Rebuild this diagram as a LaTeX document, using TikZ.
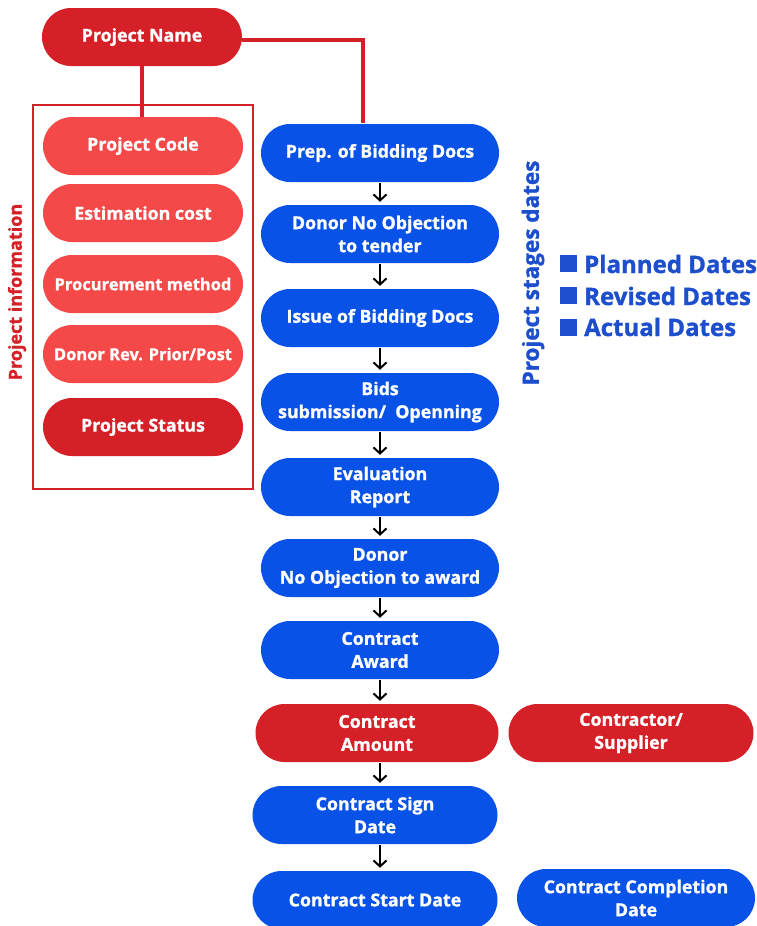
\documentclass[tikz,border=0pt]{standalone}
\usepackage{fontspec}
\setmainfont{Open Sans}[BoldFeatures={FakeBold=1.2}]
\usetikzlibrary{arrows.meta}
\definecolor{darkred}{RGB}{212,32,38}
\definecolor{lightred}{RGB}{245,72,72}
\definecolor{stageblue}{RGB}{8,82,232}
\definecolor{legendblue}{RGB}{28,78,205}
\tikzset{
  pill/.style={rounded corners=29pt, minimum height=58pt, inner sep=0pt,
    text=white, align=center, font=\bfseries\fontsize{17.8}{23}\selectfont},
  inforow/.style={pill, fill=lightred, minimum width=200pt},
  headrow/.style={pill, fill=darkred, minimum width=200pt},
  stagebox/.style={pill, fill=stageblue, minimum width=238pt},
  amountbox/.style={pill, fill=darkred, minimum width=243pt},
  link/.style={draw=darkred, line width=4pt},
  stepline/.style={draw=black, line width=2pt, -{Straight Barb[length=6pt,width=13pt,line width=2pt]}},
  legendsq/.style={fill=legendblue, minimum size=17pt, inner sep=0pt},
  legendtext/.style={text=legendblue, anchor=west, inner sep=0pt, font=\bfseries\fontsize{24}{28}\selectfont}
}
\begin{document}
\begin{tikzpicture}[x=1pt,y=-1pt]
\useasboundingbox[fill=white] (0,0) rectangle (756,926);

% project information frame
\draw[draw=darkred, line width=1.3pt] (33,105) rectangle (253,489);
\node[rotate=90, text=darkred, font=\bfseries\fontsize{18}{20}\selectfont] (infolabel) at (17,292) {Project information};

% project header and information items
\node[headrow] (pname) at (142,37) {Project Name};
\node[inforow] (pcode) at (143,146) {Project Code};
\node[inforow] (pcost) at (143,213) {Estimation cost};
\node[inforow, font=\bfseries\fontsize{16.5}{20}\selectfont] (pmethod) at (143,284) {Procurement method};
\node[inforow, font=\bfseries\fontsize{16.5}{20}\selectfont] (preview) at (143,354) {Donor Rev. Prior/Post};
\node[headrow] (pstatus) at (143,427) {Project Status};

% procurement stages
\node[stagebox] (s1) at (380,153) {Prep. of Bidding Docs};
\node[stagebox] (s2) at (380,234) {Donor No Objection\\to tender};
\node[stagebox] (s3) at (380,318) {Issue of Bidding Docs};
\node[stagebox] (s4) at (380,402) {Bids\\submission/\ \ Openning};
\node[stagebox] (s5) at (380,487) {Evaluation\\Report};
\node[stagebox] (s6) at (380,568) {Donor\\No Objection to award};
\node[stagebox] (s7) at (380,650) {Contract\\Award};
\node[amountbox] (s8) at (377,733) {Contract\\Amount};
\node[stagebox, minimum width=245pt] (s9) at (375,815) {Contract Sign\\Date};
\node[stagebox, minimum width=245pt] (s10) at (375,900) {Contract Start Date};
\node[amountbox, minimum width=245pt] (supplier) at (631,733) {Contractor/\\Supplier};
\node[stagebox] (finish) at (636,898) {Contract Completion\\Date};

% connectors from the project name
\draw[link] (pname.south) -- (pcode.north -| pname.south);
\draw[link] (pname.east |- 0,40) -- (363,40) -- (363,123);

% stage arrows
\foreach \a/\b in {s1/s2,s2/s3,s3/s4,s4/s5,s5/s6,s6/s7,s7/s8,s8/s9,s9/s10}
  \draw[stepline] ([yshift=-1pt]\a.south -| 380,0) -- ([yshift=3pt]\b.north -| 380,0);

% stage dates label and legend
\node[rotate=90, text=legendblue, font=\bfseries\fontsize{22.5}{24}\selectfont] (stagelabel) at (533,273) {Project stages dates};
\node[legendsq] (sq1) at (568,263) {};
\node[legendsq] (sq2) at (568,295) {};
\node[legendsq] (sq3) at (568,327) {};
\node[legendtext] (lg1) at (584,264) {Planned Dates};
\node[legendtext] (lg2) at (584,296) {Revised Dates};
\node[legendtext] (lg3) at (584,327) {Actual Dates};
\end{tikzpicture}
\end{document}
